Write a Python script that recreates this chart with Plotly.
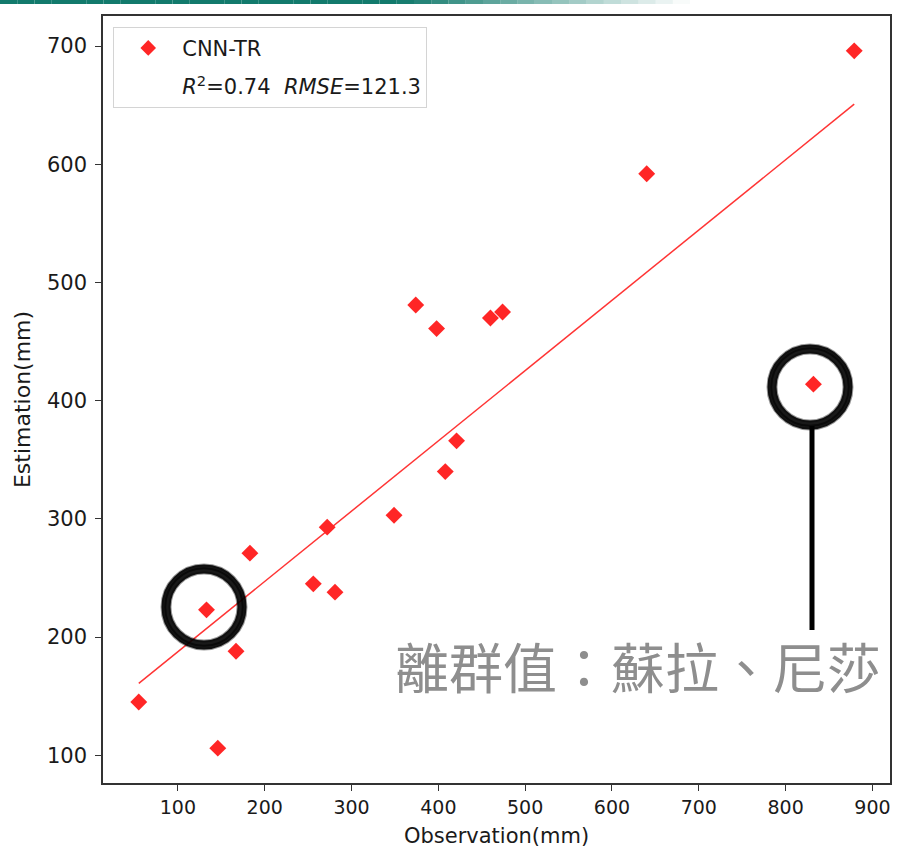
import numpy as np
import plotly.graph_objects as go

# Observed vs. estimated values (mm)
observation = [55, 146, 133, 167, 183, 256, 281, 272, 349, 374, 398, 460, 474, 421, 408, 640, 879, 832]
estimation = [145, 106, 223, 188, 271, 245, 238, 293, 303, 481, 461, 470, 475, 366, 340, 592, 696, 414]

series_name = "CNN-TR"
stats_label = "<i>R</i><sup>2</sup>=0.74  <i>RMSE</i>=121.3"
outlier_note = "離群值：蘇拉、尼莎"

x_ticks = [100, 200, 300, 400, 500, 600, 700, 800, 900]
y_ticks = [100, 200, 300, 400, 500, 600, 700]

obs = np.array(observation, dtype=float)
est = np.array(estimation, dtype=float)

# least-squares fit line over the observed range
slope, intercept = np.polyfit(obs, est, 1)
fit_x = np.array([obs.min(), obs.max()])
fit_y = slope * fit_x + intercept


def padded(lo, hi, frac=0.05):
    span = hi - lo
    return [lo - frac * span, hi + frac * span]


x_range = padded(obs.min(), obs.max())
y_range = padded(est.min(), est.max())

W, H = 916, 851
ML, MR, MT, MB = 103, 26, 16, 68
plot_w = W - ML - MR
plot_h = H - MT - MB
px_x = plot_w / (x_range[1] - x_range[0])
px_y = plot_h / (y_range[1] - y_range[0])

RED = "rgb(255,38,38)"

fig = go.Figure()

fig.add_trace(go.Scatter(
    x=fit_x, y=fit_y, mode="lines",
    line=dict(color="rgba(255,30,30,0.9)", width=1.5),
    showlegend=False, hoverinfo="skip",
))

fig.add_trace(go.Scatter(
    x=obs, y=est, mode="markers", name=series_name, legendgroup="pts",
    marker=dict(symbol="diamond", size=13, color=RED, line=dict(width=0)),
))

# statistics line in the legend (no visible handle)
fig.add_trace(go.Scatter(
    x=[None], y=[None], mode="markers", name=stats_label, legendgroup="stats",
    marker=dict(size=1, color="rgba(0,0,0,0)"),
))


def brush_circle(cx_px, cy_px, r_px):
    """Rough ink ring drawn around a point, given in pixel offsets of the data frame."""
    cx = x_range[0] + (cx_px - ML) / px_x
    cy = y_range[1] - (cy_px - MT) / px_y
    layers = [
        (r_px, 9, 0.9),
        (r_px - 4, 3, 0.4),
        (r_px + 4, 3, 0.4),
        (r_px + 0.8, 2, 0.6),
    ]
    for r, w, op in layers:
        fig.add_shape(
            type="circle", xref="x", yref="y",
            x0=cx - r / px_x, x1=cx + r / px_x,
            y0=cy - r / px_y, y1=cy + r / px_y,
            line=dict(color=f"rgba(0,0,0,{op})", width=w),
            layer="above",
        )


brush_circle(204, 607, 38)
brush_circle(810, 387, 38)

# pointer from the right-hand ring down to the note
pointer_x = x_range[0] + (812 - ML) / px_x
fig.add_shape(
    type="line", xref="x", yref="y",
    x0=pointer_x, x1=pointer_x,
    y0=y_range[1] - (426 - MT) / px_y, y1=y_range[1] - (630 - MT) / px_y,
    line=dict(color="black", width=5), layer="above",
)

fig.add_annotation(
    x=x_range[0] + (638 - ML) / px_x, y=y_range[1] - (665 - MT) / px_y,
    xref="x", yref="y", text=outlier_note, showarrow=False,
    font=dict(family="Noto Sans CJK TC", size=54, color="rgb(142,142,142)"),
)

# teal header band fading to white
band_solid_end = 400
band_end = 690
steps = 40
for i in range(steps):
    x0 = i * band_end / steps
    x1 = (i + 1) * band_end / steps
    mid = (x0 + x1) / 2
    if mid < band_solid_end:
        a = 1.0
    else:
        a = max(0.0, 1 - (mid - band_solid_end) / (band_end - band_solid_end))
    fig.add_shape(
        type="rect", xref="paper", yref="paper",
        x0=(x0 - ML) / plot_w, x1=(x1 - ML) / plot_w,
        y0=1 + (MT - 4) / plot_h, y1=1 + MT / plot_h,
        line=dict(width=0), fillcolor=f"rgba(18,122,108,{a:.3f})",
    )

axis_common = dict(
    showgrid=False, zeroline=False, showline=True, mirror=True,
    linecolor="#333333", linewidth=1.5, automargin=False,
    ticks="outside", ticklen=6, tickwidth=1.2, tickcolor="#333333",
)

fig.update_xaxes(
    range=x_range, tickvals=x_ticks,
    tickfont=dict(family="DejaVu Sans", size=19, color="#1a1a1a"),
    title=dict(text="Observation(mm)", font=dict(family="DejaVu Sans", size=21, color="#1a1a1a"), standoff=12),
    **axis_common,
)
fig.update_yaxes(
    range=y_range, tickvals=y_ticks,
    tickfont=dict(family="DejaVu Sans", size=21, color="#1a1a1a"),
    ticklabelstandoff=4,
    title=dict(text="Estimation(mm)", font=dict(family="DejaVu Sans", size=22, color="#1a1a1a"), standoff=10),
    **axis_common,
)

fig.update_layout(
    width=W, height=H,
    margin=dict(l=ML, r=MR, t=MT, b=MB, autoexpand=False),
    paper_bgcolor="white", plot_bgcolor="white",
    showlegend=True,
    legend=dict(
        x=0.013, y=0.986, xanchor="left", yanchor="top",
        bgcolor="white", bordercolor="#d4d4d4", borderwidth=1,
        font=dict(family="DejaVu Sans", size=21, color="#1a1a1a"),
        itemsizing="constant", itemwidth=58, tracegroupgap=8,
    ),
)

fig.write_html("out.html")
